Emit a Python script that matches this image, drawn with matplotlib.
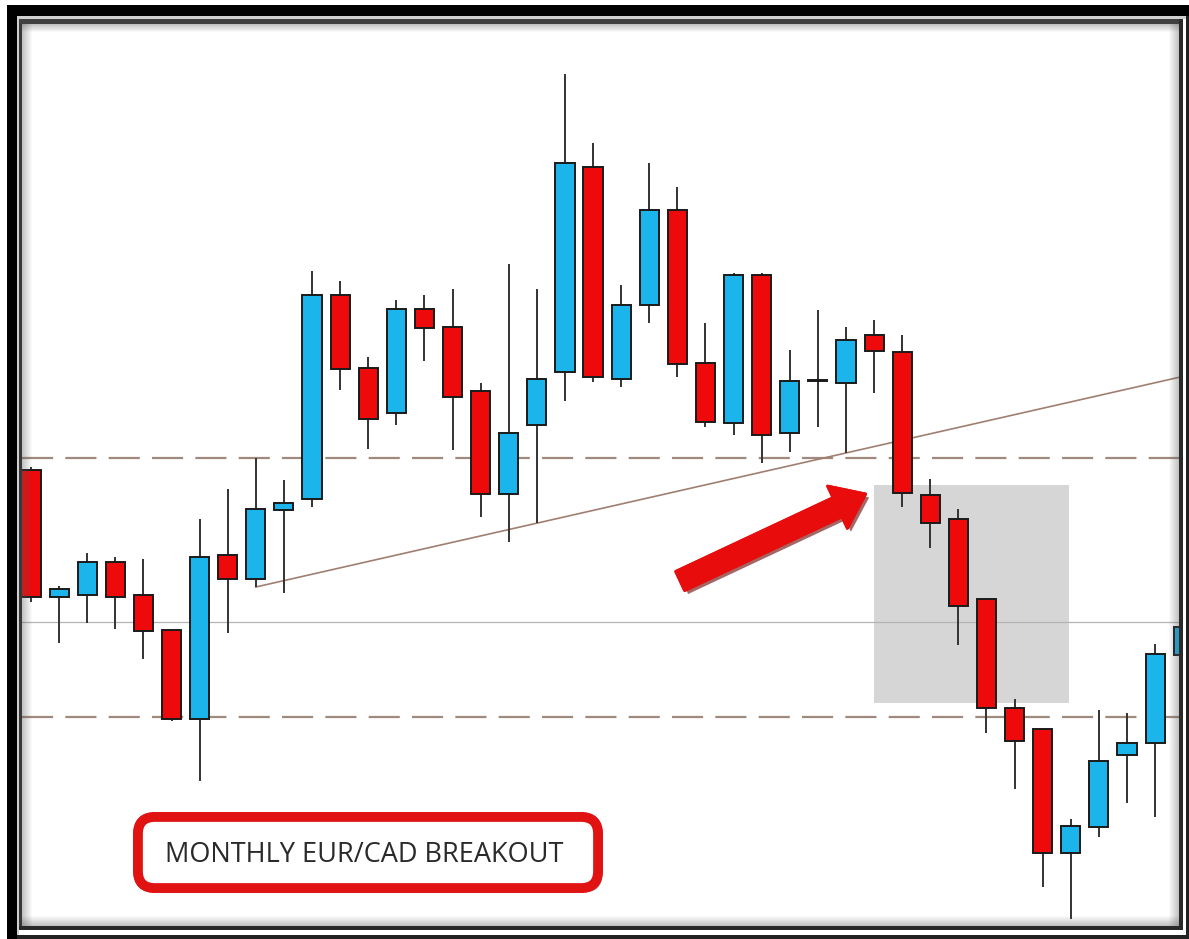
import matplotlib
matplotlib.use('Agg')
import matplotlib.pyplot as plt
from matplotlib.patches import Rectangle, FancyBboxPatch, FancyArrowPatch
import matplotlib.patheffects as pe
import numpy as np

# Monthly candles (arbitrary price units)
opens  = [469, 342, 344, 377, 344, 309, 220, 384, 360, 429, 440, 644, 571, 526,
          630, 612, 548, 445, 514, 567, 772, 560, 634, 729, 576, 516, 664, 506,
          558, 556, 604, 587, 444, 420, 340, 231, 210, 86, 112, 184, 196, 284]
highs  = [472, 353, 386, 382, 380, 310, 420, 450, 481, 459, 668, 658, 582, 639,
          644, 650, 556, 675, 650, 865, 796, 654, 776, 752, 616, 666, 666, 589,
          629, 612, 619, 604, 460, 430, 340, 240, 210, 120, 229, 226, 295, 318]
lows   = [337, 296, 316, 310, 280, 218, 158, 306, 352, 346, 432, 549, 490, 514,
          578, 489, 422, 397, 416, 538, 557, 552, 616, 562, 512, 504, 476, 487,
          512, 486, 546, 432, 391, 294, 206, 150, 52, 20, 102, 136, 122, 280]
closes = [342, 350, 377, 342, 308, 220, 382, 360, 430, 436, 644, 570, 520, 630,
          611, 542, 445, 506, 560, 776, 562, 634, 729, 575, 517, 664, 504, 558,
          559, 599, 588, 446, 416, 333, 231, 198, 86, 113, 178, 196, 285, 312]

resistance = 481
support = 222
mid_level = 317
trend_x = [8, 40.9]
trend_y = [352, 562]
zone_x = [30.0, 36.94]
zone_y = [236, 454]
arrow_from = (23.1, 358)
arrow_to = (29.7, 445)
label = 'MONTHLY EUR/CAD BREAKOUT'

W, H = 1189, 939
fig = plt.figure(figsize=(W / 100, H / 100), dpi=100)
fig.patch.set_facecolor('white')

# main chart area (pixels 22..1179 x, 24..926 y)
ax = fig.add_axes([22 / W, 13 / H, 1157 / W, 902 / H])
ax.set_xlim(-0.32, 40.85)
ax.set_ylim(13, 915)
ax.axis('off')

blue = '#1bb5ec'
red = '#ee0a0a'

ax.axhline(resistance, color='#a08a7e', lw=1.6, ls=(0, (14, 5.5)), zorder=1)
ax.axhline(support, color='#a08a7e', lw=1.6, ls=(0, (14, 5.5)), zorder=1)
ax.axhline(mid_level, color='#b4b4b4', lw=0.9, zorder=1)
ax.plot(trend_x, trend_y, color='#a07f70', lw=1.2, zorder=1)

ax.add_patch(Rectangle((zone_x[0], zone_y[0]), zone_x[1] - zone_x[0],
                       zone_y[1] - zone_y[0], facecolor='#d6d6d6',
                       edgecolor='none', zorder=0.5))

idx = np.arange(len(opens))
o = np.array(opens)
c = np.array(closes)
cols = [blue if cc >= oo else red for oo, cc in zip(o, c)]
ax.vlines(idx, lows, highs, color='#333333', lw=1.4, zorder=2)
ax.bar(idx, np.maximum(np.abs(c - o), 1), bottom=np.minimum(o, c), width=0.68,
       color=cols, edgecolor='#1a1a1a', linewidth=1.4, zorder=3)

arr = FancyArrowPatch(arrow_from, arrow_to,
                      arrowstyle='simple,head_length=1.4,head_width=2.1,tail_width=0.95',
                      mutation_scale=16, color='#e80c0c', shrinkA=0, shrinkB=0,
                      zorder=4, capstyle='round', joinstyle='round',
                      linewidth=2)
arr.set_path_effects([pe.withSimplePatchShadow(offset=(2.5, -2.5),
                                               shadow_rgbFace='#6a0000', alpha=0.6),
                      pe.Normal()])
ax.add_patch(arr)

# overlay in pixel coords for frame and label
ov = fig.add_axes([0, 0, 1, 1], zorder=5)
ov.set_xlim(0, W)
ov.set_ylim(H, 0)
ov.axis('off')
ov.patch.set_alpha(0)

# inner shadow gradient
for k in range(10):
    a = 0.35 * (1 - k / 10)
    ov.add_patch(Rectangle((22 + k, 24), 1, 902, color='#555555', alpha=a, lw=0))
    ov.add_patch(Rectangle((22, 24 + k * 0.8), 1157, 0.8, color='#555555', alpha=a, lw=0))
    ov.add_patch(Rectangle((1178 - k, 24), 1, 902, color='#555555', alpha=a, lw=0))
    ov.add_patch(Rectangle((22, 925 - k), 1157, 1, color='#555555', alpha=a, lw=0))

# frame bands
ov.add_patch(Rectangle((7, 5), 10, 934, color='black', lw=0))
ov.add_patch(Rectangle((7, 5), 1182, 11, color='black', lw=0))
ov.add_patch(Rectangle((17, 16), 2, 923, color='#cfcfcf', lw=0))
ov.add_patch(Rectangle((17, 16), 1172, 3, color='#cfcfcf', lw=0))
ov.add_patch(Rectangle((19, 19), 3, 910, color='#383838', lw=0))
ov.add_patch(Rectangle((19, 19), 1164, 5, color='#404040', lw=0))
ov.add_patch(Rectangle((1179, 19), 4, 911, color='#2a2a2a', lw=0))
ov.add_patch(Rectangle((19, 926), 1164, 4, color='#2a2a2a', lw=0))
ov.add_patch(Rectangle((1186, 16), 3, 923, color='#222222', lw=0))
ov.add_patch(Rectangle((17, 935), 1172, 4, color='#222222', lw=0))

box = FancyBboxPatch((138, 817), 460, 71,
                     boxstyle='round,pad=0,rounding_size=17',
                     facecolor='white', edgecolor='#e11212', linewidth=7)
box.set_path_effects([pe.withSimplePatchShadow(offset=(3, -3),
                                               shadow_rgbFace='#555555', alpha=0.45),
                      pe.Normal()])
ov.add_patch(box)
ov.text(364, 855, label, ha='center', va='center', fontsize=19.5,
        family='Open Sans', color='#2a2a2a')

fig.savefig('out.png', dpi=100, facecolor='white')
